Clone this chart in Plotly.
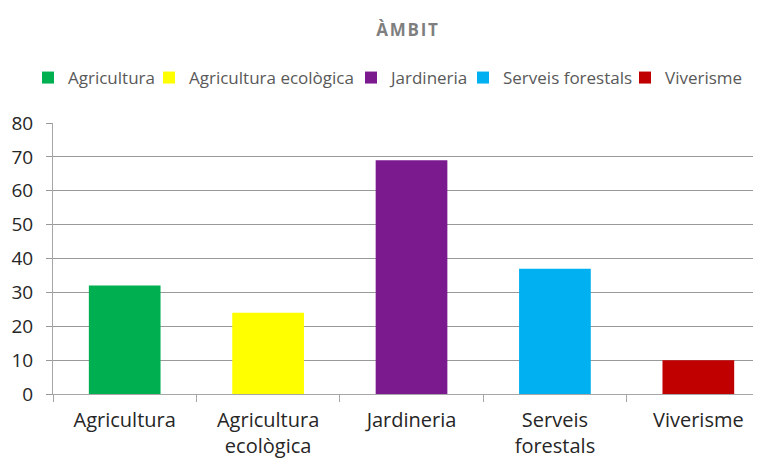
import plotly.graph_objects as go

categories = ["Agricultura", "Agricultura ecològica", "Jardineria", "Serveis forestals", "Viverisme"]
tick_labels = ["Agricultura", "Agricultura<br>ecològica", "Jardineria", "Serveis<br>forestals", "Viverisme"]
values = [32, 24, 69, 37, 10]
colors = ["#00B050", "#FFFF00", "#7B1A8F", "#00B0F0", "#C00000"]

FONT = "'Open Sans', Lato, Arial, sans-serif"
HS = "\u200a"  # hair space, for the letter-spaced title

# where each legend entry's text starts (px from the left of the figure)
legend_text_x = [60, 181, 383, 495, 657]

W, H = 753, 450

fig = go.Figure()
legend_names = ["legend"] + [f"legend{i}" for i in range(2, len(categories) + 1)]
for cat, val, col, lg in zip(categories, values, colors, legend_names):
    fig.add_trace(go.Bar(
        x=[cat], y=[val], name=cat, width=0.5, legend=lg,
        marker=dict(color=col, line=dict(width=0)),
    ))

# one legend per entry so the spacing can follow the original
legends = {}
for lg, tx in zip(legend_names, legend_text_x):
    legends[lg] = dict(
        orientation="h", xref="container", x=(tx - 40) / W, xanchor="left",
        yref="container", y=1 - 70 / H, yanchor="middle",
        font=dict(family=FONT, size=17, color="#595959"),
        itemwidth=30, borderwidth=0, bgcolor="rgba(0,0,0,0)",
    )

# page body has an 8px margin, so the figure is drawn slightly smaller and
# the plot area runs off the right edge like in the original
fig.update_layout(
    width=W, height=H,
    paper_bgcolor="white", plot_bgcolor="white",
    barmode="overlay",
    margin=dict(l=45, r=0, t=115, b=64, autoexpand=False),
    font=dict(family=FONT, size=16, color="#262626"),
    title=dict(text="<b>" + HS.join("ÀMBIT") + "</b>", x=0.53, xanchor="center",
               y=0.951, yanchor="middle",
               font=dict(family=FONT, size=17, color="#7F7F7F")),
    showlegend=True,
    **legends,
)
fig.update_xaxes(
    categoryorder="array", categoryarray=categories,
    tickvals=categories, ticktext=tick_labels,
    range=[-0.5, 4.437], automargin=False,
    showline=True, linecolor="#A6A6A6", linewidth=1,
    ticks="outside", tickson="boundaries", ticklen=7, tickcolor="#A6A6A6",
    tickfont=dict(size=20, color="#262626"), ticklabelstandoff=8,
    showgrid=False,
)
fig.update_yaxes(
    range=[0, 80], dtick=10, automargin=False,
    showline=True, linecolor="#A6A6A6", linewidth=1,
    ticks="outside", ticklen=6, tickcolor="#999999",
    showgrid=True, gridcolor="#999999", gridwidth=1,
    tickfont=dict(size=19, color="#262626"), ticklabelstandoff=9,
    zeroline=False,
)

fig.write_html("out.html")
